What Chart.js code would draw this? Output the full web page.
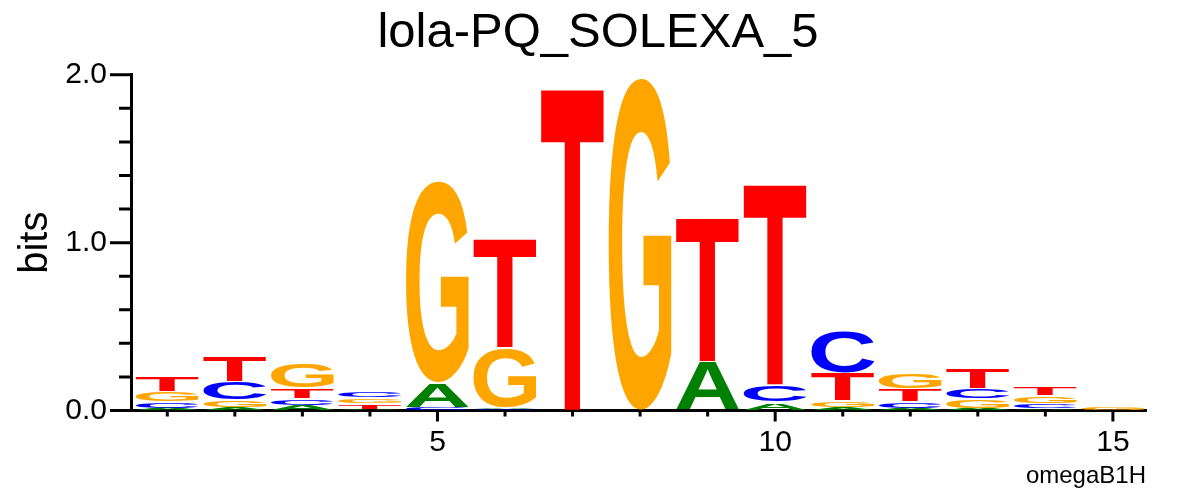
<!DOCTYPE html>
<html>
<head>
<meta charset="utf-8">
<script src="https://cdn.jsdelivr.net/npm/chart.js@4.4.1/dist/chart.umd.min.js"></script>
<style>
  body { margin: 0; background: #fff; }
  #wrap { width: 1196px; height: 496px; }
</style>
</head>
<body>
<div id="wrap"><canvas id="logo"></canvas></div>
<script>
// positions along the motif
const positions = [1, 2, 3, 4, 5, 6, 7, 8, 9, 10, 11, 12, 13, 14, 15];

// letter heights in bits
const bitsA = [0.012, 0.015, 0.027, 0.006, 0.149, 0.010, 0, 0, 0.292, 0.050, 0.015, 0.012, 0.012, 0.009, 0];
const bitsC = [0.042, 0.110, 0.042, 0.039, 0.015, 0.008, 0, 0, 0, 0.101, 0.256, 0.042, 0.062, 0.030, 0];
const bitsG = [0.060, 0.045, 0.149, 0.036, 1.207, 0.355, 0, 1.984, 0, 0, 0.042, 0.098, 0.058, 0.050, 0.015];
const bitsT = [0.095, 0.158, 0.066, 0.032, 0, 0.656, 1.930, 0, 0.862, 1.205, 0.167, 0.075, 0.128, 0.054, 0];

const letters = ['A', 'C', 'G', 'T'];
const letterColors = ['#008000', '#0000ff', '#ffa500', '#ff0000'];

// ticks
const yTicks = [0, 0.2, 0.4, 0.6, 0.8, 1, 1.2, 1.4, 1.6, 1.8, 2];
const yLabelled = [0, 1, 2];
const xLabelled = [5, 10, 15];

Chart.defaults.font.family = '"Liberation Sans", Arial, sans-serif';
Chart.defaults.color = '#000';

// stack letters per position, smallest at the bottom
const heights = [bitsA, bitsC, bitsG, bitsT];
const ranges = letters.map(() => []);
positions.forEach((pos, i) => {
    const order = [0, 1, 2, 3].sort((a, b) => heights[a][i] - heights[b][i]);
    let base = 0;
    for (const k of order) {
        const h = heights[k][i];
        if (h > 0) {
            ranges[k].push({ x: pos, y: [base, base + h] });
        }
        base += h;
    }
});

function drawLetter(ctx, ch, color, left, top, w, h) {
    ctx.save();
    ctx.font = 'bold 200px "Liberation Sans"';
    ctx.textAlign = 'left';
    ctx.textBaseline = 'alphabetic';
    const m = ctx.measureText(ch);
    const gw = m.actualBoundingBoxLeft + m.actualBoundingBoxRight;
    const gh = m.actualBoundingBoxAscent + m.actualBoundingBoxDescent;
    const inset = h > 5 ? 0.8 : 0;
    const hh = Math.max(h - 2 * inset, 0.8);
    ctx.translate(left, top + inset);
    ctx.scale(w / gw, hh / gh);
    ctx.fillStyle = color;
    ctx.fillText(ch, m.actualBoundingBoxLeft, m.actualBoundingBoxAscent);
    ctx.restore();
}

// draws the glyphs into the rectangles of the (invisible) bars
const letterPlugin = {
    id: 'letters',
    afterDatasetsDraw(chart) {
        const ctx = chart.ctx;
        chart.data.datasets.forEach((ds, di) => {
            const meta = chart.getDatasetMeta(di);
            meta.data.forEach(bar => {
                const p = bar.getProps(['x', 'y', 'base', 'width'], true);
                const top = Math.min(p.y, p.base);
                const h = Math.abs(p.base - p.y);
                drawLetter(ctx, ds.label, ds.letterColor, p.x - p.width / 2, top, p.width, h);
            });
        });
    }
};

// long and short tick marks
const tickPlugin = {
    id: 'tickMarks',
    afterDraw(chart) {
        const ctx = chart.ctx;
        const area = chart.chartArea;
        const xs = chart.scales.x;
        const ys = chart.scales.y;
        ctx.save();
        ctx.strokeStyle = '#000';
        ctx.lineWidth = 3;
        ctx.beginPath();
        for (const v of yTicks) {
            const py = ys.getPixelForValue(v);
            const len = yLabelled.includes(v) ? 21 : 12;
            ctx.moveTo(area.left, py);
            ctx.lineTo(area.left - len, py);
        }
        for (const v of positions) {
            const px = xs.getPixelForValue(v);
            const len = xLabelled.includes(v) ? 11 : 6;
            ctx.moveTo(px, area.bottom);
            ctx.lineTo(px, area.bottom + len);
        }
        ctx.stroke();
        ctx.restore();
    }
};

new Chart(document.getElementById('logo'), {
    type: 'bar',
    data: {
        datasets: letters.map((l, k) => ({
            label: l,
            letterColor: letterColors[k],
            data: ranges[k],
            backgroundColor: 'rgba(0,0,0,0)',
            borderWidth: 0,
            grouped: false,
            barPercentage: 0.933,
            categoryPercentage: 1
        }))
    },
    options: {
        responsive: true,
        maintainAspectRatio: false,
        animation: false,
        events: [],
        layout: { padding: 0 },
        plugins: {
            legend: { display: false },
            tooltip: { enabled: false },
            title: {
                display: true,
                text: 'lola-PQ_SOLEXA_5',
                color: '#000',
                font: { size: 49, weight: 'normal' },
                padding: { top: 4, bottom: 12 }
            }
        },
        scales: {
            x: {
                type: 'linear',
                offset: false,
                min: 0.4625,
                max: 15.49,
                grid: { display: false, drawTicks: false },
                border: { display: true, width: 3, color: '#000' },
                afterBuildTicks: s => { s.ticks = positions.map(v => ({ value: v })); },
                ticks: {
                    autoSkip: false,
                    maxRotation: 0,
                    padding: 14,
                    font: { size: 30 },
                    callback: v => xLabelled.includes(v) ? String(v) : ''
                },
                title: {
                    display: true,
                    text: 'omegaB1H',
                    align: 'end',
                    font: { size: 24 },
                    padding: { top: 0, bottom: 5 }
                },
                afterFit: s => { s.height = 85.5; }
            },
            y: {
                min: 0,
                max: 2,
                grid: { display: false, drawTicks: false },
                border: { display: true, width: 3, color: '#000' },
                afterBuildTicks: s => { s.ticks = yTicks.map(v => ({ value: v })); },
                ticks: {
                    autoSkip: false,
                    padding: 24,
                    font: { size: 30 },
                    callback: v => yLabelled.includes(v) ? v.toFixed(1) : ''
                },
                title: {
                    display: true,
                    text: 'bits',
                    font: { size: 40 },
                    padding: { top: 12, bottom: 0 }
                },
                afterFit: s => { s.width = 131; }
            },
            // empty right-hand strip so the title stays centred on the page
            yRight: {
                position: 'right',
                min: 0,
                max: 2,
                grid: { display: false, drawTicks: false },
                border: { display: false },
                ticks: { display: false },
                afterFit: s => { s.width = 50; }
            }
        }
    },
    plugins: [letterPlugin, tickPlugin]
});
</script>
</body>
</html>
